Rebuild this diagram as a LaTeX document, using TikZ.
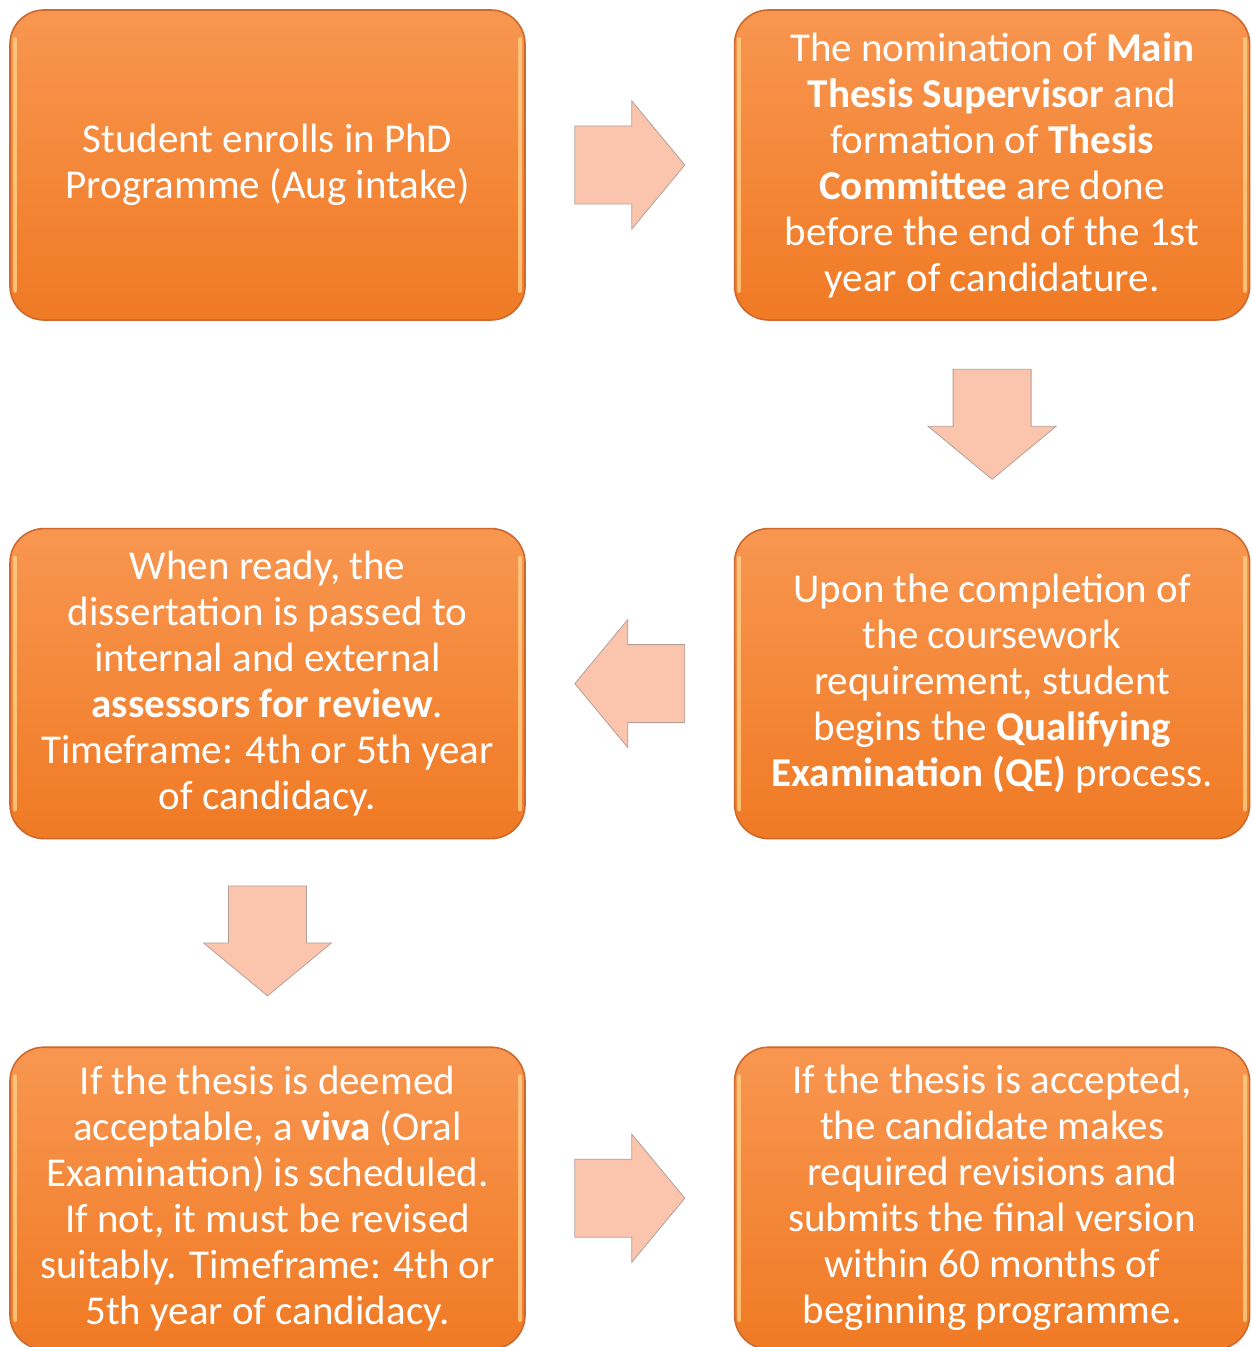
\documentclass[tikz,border=0pt]{standalone}
\usepackage{fontspec}
\setmainfont{Carlito}
\usetikzlibrary{positioning,calc}
\definecolor{boxtop}{RGB}{248,150,80}
\definecolor{boxbot}{RGB}{240,122,36}
\definecolor{boxline}{RGB}{205,105,45}
\definecolor{boxshine}{RGB}{255,214,140}
\definecolor{arrowfill}{RGB}{251,196,172}
\definecolor{arrowline}{RGB}{180,160,155}

\begin{document}
\begin{tikzpicture}[
    x=0.5pt, y=-0.5pt,
    stage/.style={draw=boxline, line width=0.8pt, rounded corners=17pt,
        top color=boxtop, bottom color=boxbot,
        minimum width=257.5pt, minimum height=155pt, inner sep=0pt,
        text=white, align=center, font=\fontsize{20.5}{23}\selectfont,
        append after command={
            ([xshift=2.8pt,yshift=-15pt]\tikzlastnode.north west) edge[shine] ([xshift=2.8pt,yshift=15pt]\tikzlastnode.south west)
            ([xshift=-2.8pt,yshift=-15pt]\tikzlastnode.north east) edge[shine] ([xshift=-2.8pt,yshift=15pt]\tikzlastnode.south east)
        }},
    shine/.style={draw=boxshine, line width=2pt, line cap=round, opacity=0.75},
    blockarrow/.style={fill=arrowfill, draw=arrowline, line width=0.4pt}
]
    \useasboundingbox (0,0) rectangle (1251,1347);

    \node[stage] (enrol) at (267.5,165)
        {Student enrolls in PhD\\Programme (Aug intake)};
    \node[stage, right=104pt of enrol] (nominate)
        {The nomination of \textbf{Main}\\\textbf{Thesis Supervisor} and\\formation of \textbf{Thesis}\\\textbf{Committee} are done\\before the end of the 1st\\year of candidature.};
    \node[stage, below=103.5pt of nominate] (qe)
        {Upon the completion of\\the coursework\\requirement, student\\begins the \textbf{Qualifying}\\\textbf{Examination (QE)} process.};
    \node[stage, left=104pt of qe] (review)
        {When ready, the\\dissertation is passed to\\internal and external\\\textbf{assessors for review}.\\Timeframe: 4th or 5th year\\of candidacy.};
    \node[stage, minimum height=151pt, below=103.5pt of review] (viva)
        {If the thesis is deemed\\acceptable, a \textbf{viva} (Oral\\Examination) is scheduled.\\If not, it must be revised\\suitably. Timeframe: 4th or\\5th year of candidacy.};
    \node[stage, minimum height=151pt, right=104pt of viva] (final)
        {If the thesis is accepted,\\the candidate makes\\required revisions and\\submits the final version\\within 60 months of\\beginning programme.};

    % block arrows between the stages
    \foreach \from/\to/\ang in {enrol/nominate/0, nominate/qe/-90, qe/review/180,
                                review/viva/-90, viva/final/0}{
        \begin{scope}[shift={($(\from)!0.5!(\to)$)}, rotate=\ang]
            \draw[blockarrow] (-27.5pt,-19.5pt) -- (1pt,-19.5pt) -- (1pt,-32pt)
                -- (27.5pt,0pt) -- (1pt,32pt) -- (1pt,19.5pt) -- (-27.5pt,19.5pt) -- cycle;
        \end{scope}
    }
\end{tikzpicture}
\end{document}
